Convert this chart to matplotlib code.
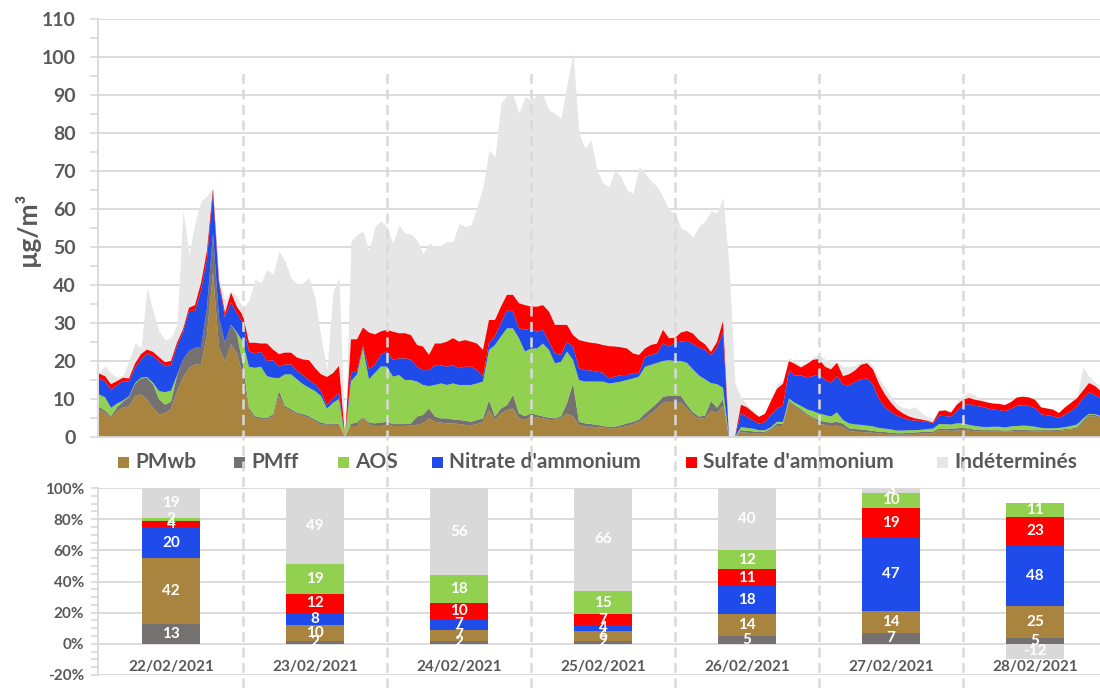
import numpy as np
import matplotlib.pyplot as plt
from matplotlib.lines import Line2D
from matplotlib.patches import Rectangle
from matplotlib.ticker import MultipleLocator, FuncFormatter

plt.rcParams['font.family'] = ['Lato', 'DejaVu Sans']
plt.rcParams['font.weight'] = 'bold'

W, H = 1100, 688

days = ['22/02/2021', '23/02/2021', '24/02/2021', '25/02/2021',
        '26/02/2021', '27/02/2021', '28/02/2021']

# hourly concentrations (µg/m3), 22/02 00h -> 28/02 23h, one row per day
pmwb = [
    7.3, 6.4, 5.1, 6.8, 7.8, 8.0, 10.8, 11.2, 9.9, 7.7, 6.0, 6.2, 7.5, 12.1, 15.6, 18.2, 19.1, 19.1, 27.0, 43.4, 23.5, 19.9, 24.4, 22.0,
    16.0, 7.0, 5.1, 4.6, 4.6, 5.5, 10.8, 7.7, 6.8, 6.0, 5.5, 5.1, 4.2, 3.2, 3.2, 3.2, 3.2, 0.0, 2.9, 2.9, 5.1, 3.3, 2.9, 2.9,
    3.2, 2.9, 2.9, 2.9, 3.1, 3.2, 3.6, 4.9, 4.0, 3.8, 3.6, 3.6, 3.4, 3.2, 3.1, 3.4, 4.0, 7.1, 4.5, 6.2, 7.1, 7.5, 4.9, 4.5,
    5.4, 5.2, 4.9, 4.5, 4.5, 4.9, 6.2, 5.4, 3.2, 2.7, 2.7, 2.6, 2.5, 2.3, 2.3, 2.5, 2.9, 3.4, 4.0, 4.9, 6.2, 7.5, 8.9, 9.3,
    9.0, 9.0, 7.5, 5.8, 4.8, 5.0, 6.8, 6.4, 8.2, 0.0, 0.0, 1.3, 1.1, 1.0, 0.9, 1.1, 1.8, 2.8, 3.0, 9.2, 7.9, 6.8, 5.7, 5.0,
    3.5, 3.2, 2.8, 3.0, 2.6, 1.6, 1.4, 1.3, 1.2, 1.1, 1.0, 0.8, 0.7, 0.6, 0.6, 0.7, 0.8, 0.9, 1.0, 1.0, 1.8, 1.8, 1.6, 1.7,
    1.9, 1.7, 1.5, 1.4, 1.4, 1.4, 1.4, 1.5, 1.5, 1.6, 1.6, 1.6, 1.5, 1.5, 1.6, 1.6, 1.6, 1.8, 2.0, 2.2, 3.7, 5.5, 5.4, 4.9,
]
pmff = [
    0.6, 0.6, 0.4, 1.0, 1.5, 2.5, 3.2, 4.2, 5.7, 6.2, 4.0, 2.3, 1.8, 4.0, 4.8, 4.4, 4.4, 4.4, 7.0, 10.1, 7.9, 4.9, 5.2, 5.0,
    3.0, 0.7, 0.4, 0.5, 0.4, 0.5, 1.3, 0.5, 0.5, 0.4, 0.5, 0.4, 0.4, 0.6, 0.3, 0.3, 0.3, 0.0, 0.6, 0.9, 0.2, 0.5, 0.7, 0.9,
    0.8, 0.5, 0.5, 0.5, 0.5, 2.2, 2.2, 2.6, 1.4, 1.1, 1.3, 1.0, 1.1, 1.1, 0.9, 1.1, 0.9, 2.6, 0.9, 1.3, 1.3, 3.6, 1.3, 1.0,
    0.8, 0.6, 0.5, 0.6, 0.4, 0.5, 2.7, 8.7, 0.8, 0.9, 0.7, 0.6, 0.4, 0.4, 0.4, 0.6, 0.7, 0.6, 0.6, 1.3, 1.3, 1.4, 1.7, 1.5,
    1.8, 1.8, 1.0, 0.7, 0.6, 0.6, 2.7, 1.3, 1.7, 0.0, 0.0, 0.5, 0.5, 0.5, 0.4, 0.3, 0.4, 0.7, 0.5, 0.4, 0.4, 0.5, 0.4, 0.2,
    0.9, 0.8, 1.0, 1.0, 0.9, 0.7, 0.7, 0.7, 0.6, 0.5, 0.4, 0.5, 0.4, 0.4, 0.4, 0.4, 0.4, 0.4, 0.4, 0.4, 0.4, 0.4, 0.6, 0.6,
    0.5, 0.5, 0.4, 0.4, 0.4, 0.4, 0.4, 0.2, 0.3, 0.3, 0.3, 0.2, 0.3, 0.3, 0.2, 0.2, 0.3, 0.3, 0.2, 0.4, 0.6, 0.4, 0.4, 0.4,
]
aos = [
    3.3, 3.5, 2.2, 1.0, 0.3, 0.2, 0.2, 0.2, 0.2, 0.4, 2.1, 3.3, 2.9, 0.2, 0.0, 0.0, 0.0, 0.0, 0.0, 0.0, 0.0, 0.0, 0.0, 0.5,
    6.0, 10.8, 12.7, 13.4, 11.0, 9.6, 3.4, 8.3, 9.2, 8.8, 7.9, 7.5, 7.5, 7.0, 4.0, 5.5, 6.5, 0.0, 11.2, 12.7, 18.2, 11.4, 13.3, 14.8,
    14.5, 12.5, 12.9, 11.6, 11.4, 9.2, 7.9, 5.9, 8.3, 9.2, 8.8, 9.5, 9.2, 9.4, 9.7, 9.6, 9.7, 13.2, 18.8, 19.0, 20.2, 17.5, 19.8, 17.0,
    17.1, 17.5, 19.2, 17.8, 14.5, 14.4, 13.6, 6.2, 11.0, 11.0, 11.2, 11.4, 11.7, 11.4, 11.6, 11.5, 11.4, 11.4, 11.3, 12.3, 11.5, 10.6, 9.4, 9.4,
    9.2, 9.2, 11.0, 11.3, 10.8, 9.6, 4.7, 6.2, 3.1, 0.0, 0.0, 0.8, 0.8, 0.7, 0.5, 0.4, 0.4, 0.5, 0.5, 0.5, 0.7, 0.9, 1.2, 1.6,
    1.8, 1.8, 1.6, 2.5, 1.0, 1.3, 1.2, 1.2, 1.2, 1.2, 1.0, 0.9, 0.9, 0.7, 0.7, 0.7, 0.6, 0.6, 0.7, 0.8, 1.2, 1.2, 1.1, 1.3,
    1.2, 1.0, 1.0, 0.9, 0.8, 0.9, 0.9, 0.8, 1.0, 1.0, 1.1, 1.1, 0.9, 0.6, 0.5, 0.5, 0.5, 0.5, 0.7, 0.7, 0.5, 0.2, 0.2, 0.2,
]
nitrate = [
    4.2, 4.2, 4.8, 4.8, 5.1, 3.8, 4.0, 4.8, 6.1, 7.0, 7.9, 6.8, 6.7, 7.6, 7.1, 10.6, 9.7, 15.0, 13.0, 10.8, 8.8, 6.7, 5.8, 5.0,
    5.0, 4.0, 3.8, 3.9, 4.0, 4.6, 3.0, 2.6, 2.6, 2.2, 2.4, 1.9, 1.8, 1.3, 0.9, 1.2, 1.5, 0.0, 2.2, 0.9, 0.5, 2.6, 2.2, 3.1,
    4.0, 4.4, 4.4, 5.7, 5.3, 3.9, 3.9, 4.2, 5.2, 4.8, 4.8, 4.8, 4.4, 4.8, 4.8, 3.5, 1.3, 2.0, 2.3, 3.5, 4.8, 4.4, 2.6, 5.7,
    5.3, 4.4, 3.6, 2.2, 2.6, 1.8, 2.6, 3.5, 3.1, 3.0, 2.9, 2.6, 2.3, 1.3, 1.6, 1.7, 1.3, 1.4, 0.9, 2.6, 2.6, 2.5, 4.6, 3.6,
    4.8, 5.1, 5.8, 6.7, 7.3, 7.8, 7.3, 9.6, 14.5, 0.0, 0.0, 3.7, 2.9, 2.2, 1.7, 2.1, 3.2, 3.5, 4.3, 7.4, 7.2, 8.0, 8.4, 9.2,
    10.3, 9.2, 8.9, 9.5, 9.3, 9.9, 11.2, 12.0, 12.4, 11.0, 7.6, 5.6, 4.6, 3.9, 3.3, 2.7, 2.5, 2.3, 1.9, 1.4, 2.2, 2.1, 2.1, 3.2,
    4.7, 5.5, 5.3, 5.3, 5.0, 4.5, 4.4, 4.3, 4.6, 5.3, 5.4, 5.2, 4.9, 3.6, 3.4, 3.2, 2.6, 3.3, 3.9, 4.7, 5.4, 5.7, 5.0, 4.7,
]
sulfate = [
    1.3, 1.3, 1.4, 1.1, 0.9, 0.9, 1.1, 1.4, 1.1, 1.1, 1.0, 1.1, 1.1, 0.9, 0.8, 0.8, 1.5, 2.0, 2.0, 1.1, 0.8, 1.1, 2.6, 1.7,
    2.0, 2.3, 2.8, 2.2, 4.6, 2.8, 3.3, 3.1, 3.1, 3.5, 4.1, 5.3, 4.3, 4.4, 7.4, 6.6, 7.2, 0.0, 8.8, 8.3, 4.8, 9.7, 7.9, 6.1,
    5.7, 7.4, 6.6, 6.6, 6.5, 5.7, 6.2, 4.0, 5.7, 5.7, 6.6, 7.1, 7.0, 7.0, 6.6, 7.0, 7.0, 5.9, 4.3, 4.3, 4.0, 4.4, 6.6, 6.5,
    5.7, 6.6, 6.5, 7.9, 7.5, 7.9, 4.4, 3.0, 7.4, 7.5, 7.3, 7.4, 7.3, 8.5, 7.9, 7.3, 7.0, 5.2, 4.8, 2.2, 2.6, 2.6, 3.6, 2.2,
    1.3, 2.4, 2.6, 2.7, 2.0, 1.4, 0.9, 1.5, 3.0, 0.0, 0.0, 2.2, 2.5, 2.1, 1.8, 2.2, 3.7, 5.2, 5.7, 2.5, 3.0, 2.1, 3.5, 4.3,
    4.0, 3.5, 3.5, 3.5, 2.2, 3.0, 3.0, 3.8, 4.0, 4.0, 4.0, 3.4, 2.4, 1.7, 1.2, 0.9, 0.6, 0.4, 0.3, 0.2, 1.2, 1.5, 1.0, 1.7,
    1.5, 1.6, 1.6, 1.5, 1.5, 1.6, 1.6, 1.6, 1.8, 2.2, 2.2, 2.3, 2.2, 1.8, 1.8, 1.7, 1.3, 1.9, 2.2, 2.2, 2.0, 2.4, 2.4, 1.8,
]
# measured PM total (the part above the species is "Indéterminés")
pm_total = [
    17.0, 18.7, 16.9, 15.6, 16.3, 20.0, 24.8, 23.5, 39.3, 33.2, 27.9, 25.5, 26.1, 29.6, 59.6, 48.0, 56.4, 62.1, 63.5, 65.4, 41.5, 36.0, 38.4, 37.0,
    34.0, 36.0, 41.5, 40.6, 44.1, 42.8, 48.9, 46.3, 41.9, 40.2, 40.6, 41.9, 36.7, 26.1, 17.8, 38.4, 41.9, 0.0, 51.6, 53.3, 54.2, 48.9, 55.5, 56.8,
    55.4, 51.0, 55.8, 53.6, 53.4, 51.8, 48.3, 51.0, 50.1, 50.5, 51.4, 51.4, 56.2, 55.4, 55.8, 60.6, 65.9, 75.5, 73.8, 87.8, 90.0, 90.0, 85.2, 89.6,
    88.7, 90.0, 90.0, 86.0, 85.2, 83.9, 93.0, 101.0, 79.9, 76.0, 78.2, 70.3, 66.8, 65.9, 70.3, 68.5, 65.0, 64.1, 71.1, 69.4, 67.5, 65.9, 63.2, 59.7,
    59.0, 55.0, 54.2, 52.5, 55.5, 56.8, 59.5, 59.0, 63.0, 45.0, 14.0, 10.5, 8.5, 7.0, 5.5, 6.5, 10.0, 14.0, 15.0, 21.0, 19.8, 19.0, 19.8, 21.0,
    21.7, 20.5, 19.5, 19.8, 18.5, 18.5, 18.8, 19.8, 20.0, 18.8, 15.5, 13.0, 10.8, 8.6, 7.8, 7.5, 8.0, 6.5, 5.4, 4.9, 7.2, 7.3, 6.8, 9.5,
    10.8, 11.8, 11.0, 9.9, 9.4, 9.0, 8.9, 8.6, 9.4, 10.6, 10.8, 10.6, 10.0, 8.0, 7.7, 7.4, 6.5, 8.0, 9.2, 10.5, 18.5, 16.0, 14.5, 12.8,
]

# daily contributions (%)
pct_pmff = [13, 2, 2, 2, 5, 7, 5]
pct_pmwb = [42, 10, 7, 6, 14, 14, 25]
pct_nitrate = [20, 8, 7, 4, 18, 47, 48]
pct_sulfate = [4, 12, 10, 7, 11, 19, 23]
pct_aos = [2, 19, 18, 15, 12, 10, 11]
pct_indet = [19, 49, 56, 66, 40, 3, -12]

c_pmwb = '#A9843F'
c_pmff = '#767171'
c_aos = '#92D050'
c_nitrate = '#1E4BEA'
c_sulfate = '#FF0000'
c_indet = '#E6E6E6'
c_indet_bar = '#D9D9D9'
c_text = '#595959'
c_grid = '#D9D9D9'

fig = plt.figure(figsize=(11, 6.88), dpi=100)

# ---- top: hourly stacked areas
ax = fig.add_axes([98 / W, 251 / H, 1009 / W, 418 / H])
hours = np.arange(len(pm_total))
ax.fill_between(hours, 0, pm_total, color=c_indet, lw=0, zorder=1)
ax.stackplot(hours, pmwb, pmff, aos, nitrate, sulfate,
             colors=[c_pmwb, c_pmff, c_aos, c_nitrate, c_sulfate], lw=0, zorder=2)
ax.set_xlim(-1 / 6, 168)
ax.set_ylim(0, 110)
ax.yaxis.set_major_locator(MultipleLocator(10))
ax.yaxis.set_minor_locator(MultipleLocator(5))
ax.grid(axis='y', color=c_grid, lw=1.3)
ax.set_axisbelow(True)
ax.set_xticks([])
for s in ['top', 'right']:
    ax.spines[s].set_visible(False)
for s in ['left', 'bottom']:
    ax.spines[s].set_color(c_grid)
    ax.spines[s].set_linewidth(1.3)
    ax.spines[s].set_zorder(3)
ax.tick_params(axis='y', which='both', direction='out', length=6, width=1.2,
               color=c_grid, labelcolor=c_text, labelsize=14, pad=10)

fig.text(27 / W, 1 - 229 / H, 'µg/m³', rotation=90, ha='center', va='center',
         fontsize=19, color=c_text)

# ---- legend
legend_items = [('PMwb', c_pmwb, 118), ('PMff', c_pmff, 234), ('AOS', c_aos, 338),
                ("Nitrate d'ammonium", c_nitrate, 432),
                ("Sulfate d'ammonium", c_sulfate, 686), ('Indéterminés', c_indet, 937)]
for name, col, xp in legend_items:
    fig.add_artist(Rectangle((xp / W, 1 - 468 / H), 11 / W, 11 / H,
                             transform=fig.transFigure, color=col, lw=0))
    fig.text((xp + 17) / W, 1 - 462 / H, name, ha='left', va='center',
             fontsize=15, color=c_text)

# ---- bottom: daily 100% stacked bars (Excel style: scaled by the sum of |values|)
ax2 = fig.add_axes([98 / W, 13 / H, 1009 / W, 187 / H])
x = np.arange(len(days))
series = [(pct_pmff, c_pmff), (pct_pmwb, c_pmwb), (pct_nitrate, c_nitrate),
          (pct_sulfate, c_sulfate), (pct_aos, c_aos), (pct_indet, c_indet_bar)]
scale = 100 / np.sum([np.abs(v) for v, _ in series], axis=0)
bottom = np.zeros(len(days))
for vals, col in series:
    v = np.array(vals, dtype=float)
    h = v * scale
    pos = np.where(h > 0, h, 0)
    neg = np.where(h < 0, h, 0)
    ax2.bar(x, pos, 0.4, bottom=bottom, color=col, lw=0, zorder=2)
    ax2.bar(x, neg, 0.4, bottom=0, color=col, lw=0, zorder=2)
    for i, val in enumerate(v):
        yc = bottom[i] + h[i] / 2 if val > 0 else h[i] / 2
        ax2.text(i, yc, f'{val:.0f}', ha='center', va='center', color='white',
                 fontsize=11, zorder=3, clip_on=True)
    bottom += pos

ax2.set_xlim(-0.5 - 1 / 144, 6.5)
ax2.set_ylim(-20, 100)
ax2.yaxis.set_major_locator(MultipleLocator(20))
ax2.yaxis.set_minor_locator(MultipleLocator(5))
ax2.yaxis.set_major_formatter(FuncFormatter(lambda v, p: f'{v:.0f}%'))
ax2.grid(axis='y', color=c_grid, lw=1.3)
ax2.set_axisbelow(True)
ax2.set_xticks([])
for s in ['top', 'right', 'bottom']:
    ax2.spines[s].set_visible(False)
ax2.spines['left'].set_color(c_grid)
ax2.spines['left'].set_linewidth(1.3)
ax2.tick_params(axis='y', which='both', direction='out', length=5, width=1.2,
                color=c_grid, labelcolor=c_text, labelsize=11, pad=5)
for i, d in enumerate(days):
    ax2.text(i, -14.8, d, ha='center', va='center', fontsize=11, color=c_text)

# day separators, dashed, across both panels
for k in range(1, 7):
    xp = (99 + 144 * k) / W
    fig.add_artist(Line2D([xp, xp], [0, 1 - 68 / H], transform=fig.transFigure,
                          color=c_grid, lw=1.8, ls=(0, (4, 2.2)), zorder=5))

fig.savefig('out.png', dpi=100)
